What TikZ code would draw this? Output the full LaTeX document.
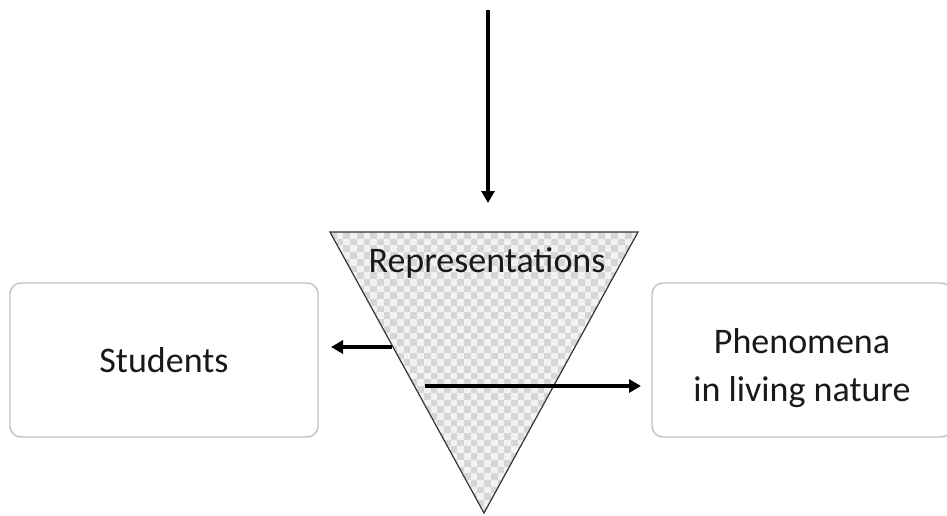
\documentclass[tikz,border=0pt]{standalone}
\usepackage{fontspec}
\setmainfont{Carlito}
\usetikzlibrary{arrows.meta}
\definecolor{boxline}{HTML}{C0C0C0}
\definecolor{chkdark}{HTML}{D6D6D6}
\definecolor{chklight}{HTML}{F2F2F2}
\begin{document}
\begin{tikzpicture}[x=1pt,y=-1pt,
  txt/.style={font=\fontsize{36}{48}\selectfont, text=black!90},
  roundbox/.style={draw=boxline, line width=1.3pt, rounded corners=11pt, fill=white, inner sep=0pt},
  arr/.style={line width=3.5pt, -{Triangle[length=12pt,width=13pt]}}]
\useasboundingbox (0,0) rectangle (947,515);
\begin{scope}
\clip (0,0) rectangle (947,515);
% boxes
\node[roundbox, minimum width=308pt, minimum height=154pt, txt] (students) at (164,360) {Students};
\node[roundbox, minimum width=300pt, minimum height=154pt] (phen) at (802,360) {};
\node[txt, align=center] (phentext) at (802,368) {Phenomena\\in living nature};
% triangle
\coordinate (tl) at (330,232);
\coordinate (tr) at (638,232);
\coordinate (tb) at (484,513);
\begin{scope}
\clip (tl) -- (tr) -- (tb) -- cycle;
\fill[chklight] (tl) rectangle (638,513);
\foreach \r in {0,...,42}{
  \foreach \c in {0,...,46}{
    \pgfmathtruncatemacro\p{mod(\r+\c,2)}
    \ifnum\p=0
      \fill[chkdark] ({330+\c*6.7},{232+\r*6.7}) rectangle ++(6.7,6.7);
    \fi
  }
}
\end{scope}
\draw[line width=1.2pt, draw=black!80, line join=miter] (tl) -- (tr) -- (tb) -- cycle;
\node[txt] (repr) at (487,263) {Representations};
% arrows
\coordinate (topstart) at (488,10);
\coordinate (topend) at (488,203);
\draw[arr] (topstart) -- (topend);
\coordinate (lstart) at (392,347);
\coordinate (lend) at (331,347);
\draw[arr] (lstart) -- (lend);
\coordinate (rstart) at (425,386);
\coordinate (rend) at (641,386);
\draw[arr] (rstart) -- (rend);
\end{scope}
\end{tikzpicture}
\end{document}
